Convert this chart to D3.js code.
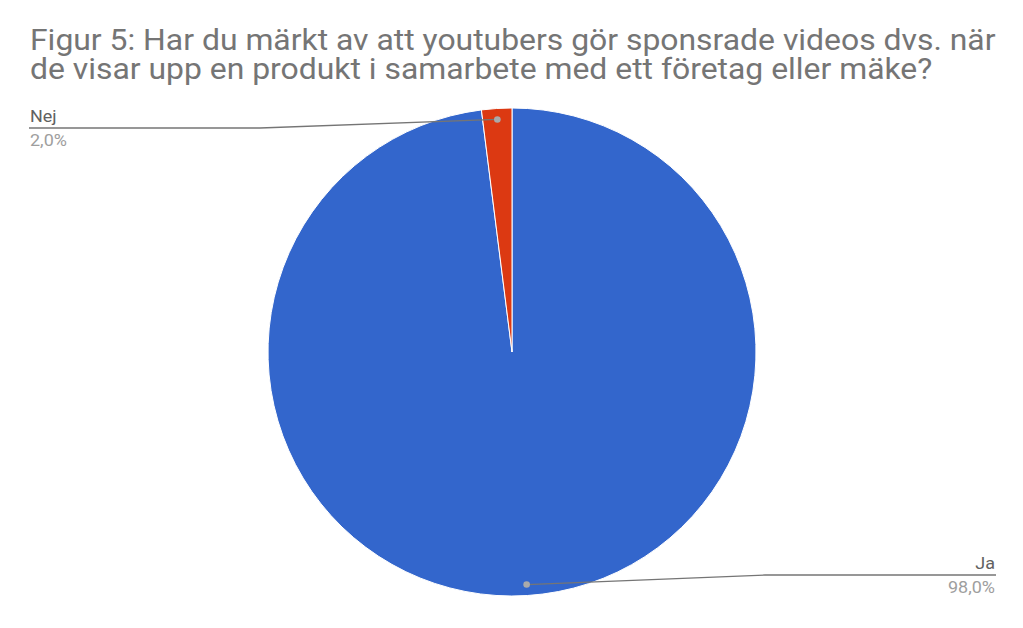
<!DOCTYPE html>
<html>
<head>
<meta charset="utf-8">
<script src="https://cdn.jsdelivr.net/npm/d3@7"></script>
<style>
  body { margin: 0; background: #fff; }
  svg { display: block; }
</style>
</head>
<body>
<div id="chart"></div>
<script>
// data
const titleLines = [
    "Figur 5: Har du märkt av att youtubers gör sponsrade videos dvs. när",
    "de visar upp en produkt i samarbete med ett företag eller mäke?"
];
const categories = ["Ja", "Nej"];
const values = [98.0, 2.0];
const colors = ["#3366cc", "#dc3912"];

function plot() {
    const svgwidth = 1023;
    const svgheight = 628;
    const cx = 512, cy = 352, r = 244;
    const font_family = "Roboto, 'Noto Sans', sans-serif";
    const stretch = 1.125; // the reference text is a bit wider than plain Roboto
    const title_stretch = 1.10;

    let svg = d3.select("#chart").append("svg")
        .attr("width", svgwidth)
        .attr("height", svgheight);

    // title
    svg.append("g")
        .attr("transform", `translate(30,50) scale(${title_stretch},1)`)
        .selectAll("text")
        .data(titleLines)
        .enter().append("text")
        .attr("x", 0)
        .attr("y", (d, i) => i * 29.5)
        .style("font-family", font_family)
        .style("font-size", "29px")
        .style("fill", "#757575")
        .text(d => d);

    // pie, starting at 12 o'clock going clockwise like google charts
    let rows = categories.map((c, i) => ({cat: c, value: values[i], color: colors[i]}));
    let pie = d3.pie().sort(null).value(d => d.value);
    let arcs = pie(rows);
    let arc = d3.arc().innerRadius(0).outerRadius(r);

    let g = svg.append("g").attr("transform", `translate(${cx},${cy})`);
    g.selectAll("path")
        .data(arcs)
        .enter().append("path")
        .attr("d", arc)
        .attr("fill", d => d.data.color)
        .attr("stroke", "#fff")
        .attr("stroke-width", 1);

    // leader lines + labels
    const total = d3.sum(values);
    const fmt = v => (v / total * 100).toFixed(1).replace(".", ",") + "%";
    // label anchor positions (side of the chart) for each slice
    const labelPos = {
        "Ja":  {x: 996, y: 575, bend: 765, anchor: "end"},
        "Nej": {x: 29,  y: 128, bend: 260, anchor: "start"}
    };

    arcs.forEach(a => {
        let mid = (a.startAngle + a.endAngle) / 2;
        let px = cx + Math.sin(mid) * r * 0.955;
        let py = cy - Math.cos(mid) * r * 0.955;
        let lp = labelPos[a.data.cat];
        svg.append("path")
            .attr("d", `M${px},${py} L${lp.bend},${lp.y} L${lp.x},${lp.y}`)
            .attr("fill", "none")
            .attr("stroke", "#757575")
            .attr("stroke-width", 1.3);
        svg.append("circle")
            .attr("cx", px)
            .attr("cy", py)
            .attr("r", 3.3)
            .attr("fill", "#aaaaaa");
        let tx = lp.x - (lp.anchor == "end" ? 1 : -1);
        let lg = svg.append("g")
            .attr("transform", `translate(${tx},${lp.y}) scale(${stretch},1)`);
        lg.append("text")
            .text(a.data.cat)
            .attr("y", -6)
            .attr("text-anchor", lp.anchor)
            .style("font-family", font_family)
            .style("font-size", "16px")
            .style("fill", "#616161");
        lg.append("text")
            .text(fmt(a.data.value))
            .attr("y", 18)
            .attr("text-anchor", lp.anchor)
            .style("font-family", font_family)
            .style("font-size", "16px")
            .style("fill", "#9e9e9e");
    });
}

plot();
</script>
</body>
</html>
